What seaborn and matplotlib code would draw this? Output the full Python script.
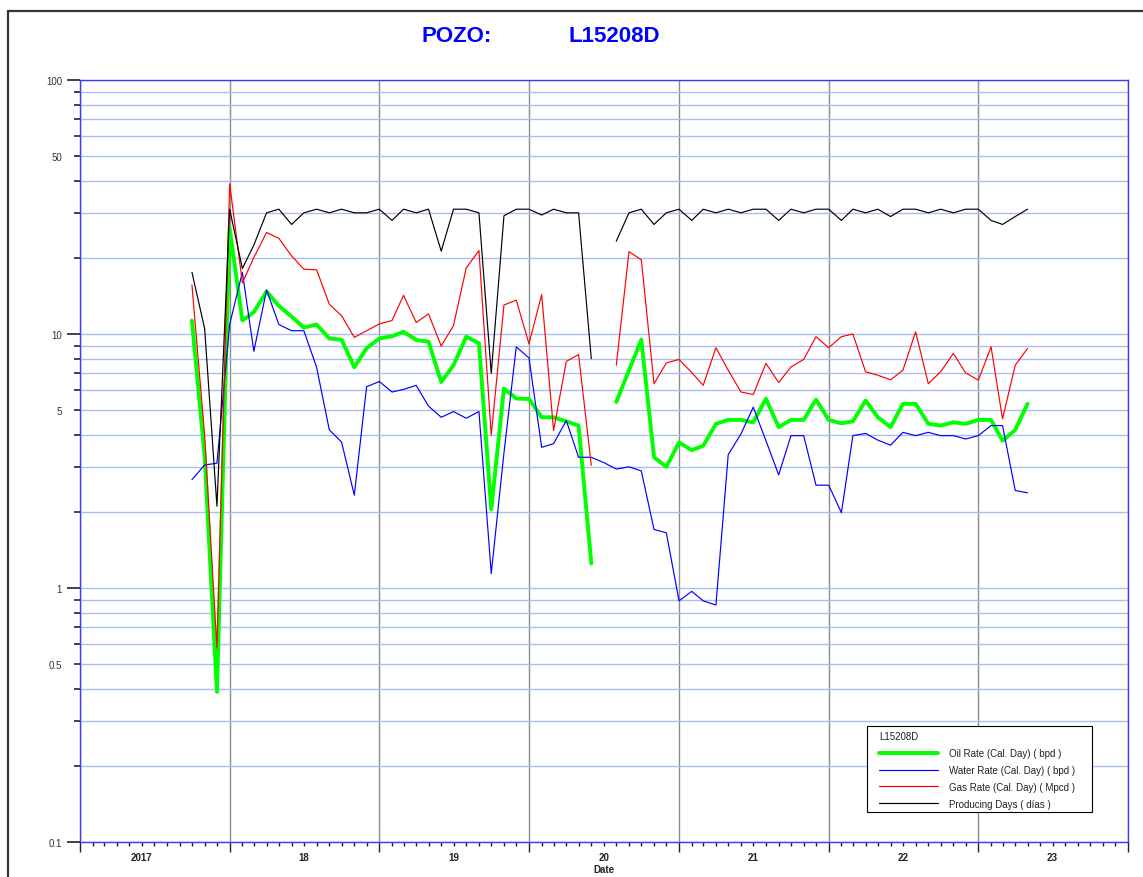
import numpy as np
import pandas as pd
import matplotlib
matplotlib.use("Agg")
import matplotlib.pyplot as plt
import matplotlib.dates as mdates
from matplotlib.ticker import FixedLocator, FuncFormatter, NullFormatter
from matplotlib.lines import Line2D
from matplotlib.patches import Rectangle
import seaborn as sns

# ---------------- data ----------------
well = "L15208D"
first_month = "2017-10-01"
n_months = 68          # Oct 2017 .. May 2023 (monthly)

oil = [11.3, 3.3, 0.39, 26.0, 11.3, 12.2, 14.7, 12.9, 11.7, 10.6, 10.9, 9.6,
       9.5, 7.4, 8.8, 9.6, 9.8, 10.2, 9.47, 9.33, 6.47, 7.54, 9.76, 9.19,
       2.04, 6.1, 5.57, 5.55, 4.7, 4.7, 4.53, 4.36, 1.25, np.nan, 5.4, 7.2,
       9.5, 3.27, 3.0, 3.74, 3.49, 3.63, 4.43, 4.59, 4.59, 4.49, 5.56, 4.3,
       4.59, 4.59, 5.52, 4.59, 4.45, 4.53, 5.47, 4.7, 4.3, 5.31, 5.31, 4.43,
       4.36, 4.49, 4.43, 4.59, 4.59, 3.8, 4.19, 5.31]

water = [2.67, 3.05, 3.1, 10.9, 17.5, 8.55, 14.9, 10.9, 10.3, 10.3, 7.4, 4.2,
         3.75, 2.32, 6.2, 6.5, 5.91, 6.05, 6.28, 5.2, 4.7, 4.95, 4.66, 4.95,
         1.14, 3.4, 8.9, 8.05, 3.58, 3.7, 4.56, 3.27, 3.27, 3.12, 2.94, 3.0,
         2.89, 1.7, 1.65, 0.89, 0.97, 0.89, 0.857, 3.35, 4.04, 5.15, 3.8, 2.79,
         3.98, 3.98, 2.54, 2.54, 1.98, 3.98, 4.06, 3.82, 3.65, 4.1, 3.98, 4.1,
         3.98, 3.98, 3.86, 3.98, 4.36, 4.36, 2.42, 2.37]

gas = [15.6, 4.0, 0.58, 39.0, 15.9, 20.0, 25.1, 23.8, 20.3, 18.0, 17.9, 13.1,
       11.8, 9.7, 10.3, 10.96, 11.3, 14.2, 11.1, 12.0, 8.96, 10.8, 18.2, 21.3,
       4.0, 13.0, 13.6, 9.15, 14.3, 4.17, 7.8, 8.3, 3.04, np.nan, 7.54, 21.1,
       19.6, 6.37, 7.69, 7.94, 7.05, 6.28, 8.83, 7.2, 5.91, 5.78, 7.66, 6.44,
       7.42, 7.94, 9.76, 8.83, 9.76, 10.0, 7.1, 6.88, 6.6, 7.2, 10.2, 6.37,
       7.1, 8.38, 7.03, 6.58, 8.9, 4.63, 7.54, 8.77]

days = [17.5, 10.5, 2.1, 31, 18.1, 22.4, 30, 31, 27, 30, 31, 30,
        31, 30, 30, 31, 28, 31, 30, 31, 21.2, 31, 31, 30,
        7.0, 29.2, 31, 31, 29.4, 31, 30, 30, 8.0, np.nan, 23.2, 30,
        31, 27, 30, 31, 28, 31, 30, 31, 30, 31, 31, 28,
        31, 30, 31, 31, 28, 31, 30, 31, 29, 31, 31, 30,
        31, 30, 31, 31, 28, 27, 29, 31]

labels = ["Oil Rate (Cal. Day) ( bpd )", "Water Rate (Cal. Day) ( bpd )",
          "Gas Rate (Cal. Day) ( Mpcd )", "Producing Days ( días )"]
colors = ["#00ff00", "#0000ff", "#ff0000", "#000000"]
widths = [2.8, 0.85, 0.85, 0.85]

# year label -> month whose tick carries it
year_ticks_labels = {(2017, 6): "2017", (2018, 7): "18", (2019, 7): "19",
                     (2020, 7): "20", (2021, 7): "21", (2022, 7): "22",
                     (2023, 7): "23"}

# ---------------- figure ----------------
dates = pd.date_range(first_month, periods=n_months, freq="MS")

sns.set_style("white")
plt.rcParams["font.family"] = ["Liberation Sans", "DejaVu Sans"]

W, H = 1143, 878
fig = plt.figure(figsize=(W / 100, H / 100), dpi=100)
ax = fig.add_axes([80 / W, 35 / H, 1048 / W, 762 / H])

for vals, lab, col, lw in zip([oil, water, gas, days], labels, colors, widths):
    df = pd.DataFrame({"date": dates, "value": vals})
    # a missing month breaks the line into separate segments
    df["seg"] = df["value"].isna().cumsum()
    df = df.dropna()
    sns.lineplot(data=df, x="date", y="value", units="seg", estimator=None,
                 color=col, linewidth=lw, ax=ax, legend=False, zorder=3)

ax.set_yscale("log")
ax.set_ylim(0.1, 100)
ax.set_xlim(pd.Timestamp("2017-01-01"), pd.Timestamp("2024-01-01"))

# y ticks
ax.yaxis.set_major_locator(FixedLocator([0.1, 1, 10, 100]))
ax.yaxis.set_major_formatter(FuncFormatter(lambda v, p: "%g" % v))
minors = [k * 10.0 ** e for e in (-1, 0, 1) for k in range(2, 10)]
ax.yaxis.set_minor_locator(FixedLocator(minors))


def minor_fmt(v, p):
    e = np.floor(np.log10(v) + 1e-9)
    k = round(v / 10 ** e)
    return ("%g" % v) if k == 5 else ""


ax.yaxis.set_minor_formatter(FuncFormatter(minor_fmt))

# x ticks
ax.xaxis.set_major_locator(mdates.YearLocator(1))
ax.xaxis.set_major_formatter(NullFormatter())
ax.xaxis.set_minor_locator(mdates.MonthLocator())


def xminor_fmt(v, p):
    d = mdates.num2date(v)
    return year_ticks_labels.get((d.year, d.month), "")


ax.xaxis.set_minor_formatter(FuncFormatter(xminor_fmt))

ax.tick_params(axis="y", which="major", length=9.4, width=1.2, color="#222222",
               pad=3.6, labelsize=7, labelcolor="#333333", left=True)
ax.tick_params(axis="y", which="minor", length=4.3, width=1.2, color="#222222",
               pad=8.6, labelsize=7, labelcolor="#333333", left=True)
ax.tick_params(axis="x", which="major", length=7.2, width=1.0, color="#222222",
               bottom=True)
ax.tick_params(axis="x", which="minor", length=2.9, width=1.0, color="#222222",
               pad=4.0, labelsize=7, labelcolor="#222222", bottom=True)
for t in ax.xaxis.get_minorticklabels():
    t.set_fontweight("bold")

ax.set_axisbelow(True)
ax.yaxis.grid(True, which="both", color="#a8bdf0", linewidth=1.0)
ax.xaxis.grid(True, which="major", color="#8c8c8c", linewidth=1.0)
ax.xaxis.grid(False, which="minor")

for s in ax.spines.values():
    s.set_visible(True)
    s.set_color("#3a3aff")
    s.set_linewidth(1.0)

ax.set_ylabel("")
ax.set_xlabel("Date", fontsize=7, fontweight="bold", color="#222222", labelpad=1.5)

# legend frame (drawn under the legend content)
frame = Rectangle((867 / W, 1 - 813 / H), 225 / W, 86 / H,
                  transform=fig.transFigure, facecolor="white",
                  edgecolor="black", linewidth=0.8, zorder=4, clip_on=False)
ax.add_patch(frame)

handles = [Line2D([], [], color=c, linewidth=w) for c, w in zip(colors, widths)]
leg = ax.legend(handles, labels, title=well, loc="upper left",
                bbox_to_anchor=(874 / W, 1 - 727 / H), bbox_transform=fig.transFigure,
                borderaxespad=0, fontsize=7, title_fontsize=7, alignment="left",
                frameon=False, handlelength=6, handletextpad=1.2,
                labelspacing=0.7, borderpad=0.55)
leg.set_zorder(6)
for t in leg.get_texts():
    t.set_color("#222222")
leg.get_title().set_color("#222222")

# title
fig.text(457 / W, 1 - 36 / H, "POZO:", ha="center", va="center",
         color="#0000ff", fontsize=16, fontweight="bold")
fig.text(614 / W, 1 - 36 / H, well, ha="center", va="center",
         color="#0000ff", fontsize=16, fontweight="bold")

# outer frame (top and left edges visible)
fig.add_artist(Line2D([8 / W, 1.0], [1 - 12 / H, 1 - 12 / H], transform=fig.transFigure,
                      color="#333333", linewidth=1.6))
fig.add_artist(Line2D([8 / W, 8 / W], [1 - 12 / H, 0.0], transform=fig.transFigure,
                      color="#333333", linewidth=1.6))

fig.savefig("out.png", dpi=100)
